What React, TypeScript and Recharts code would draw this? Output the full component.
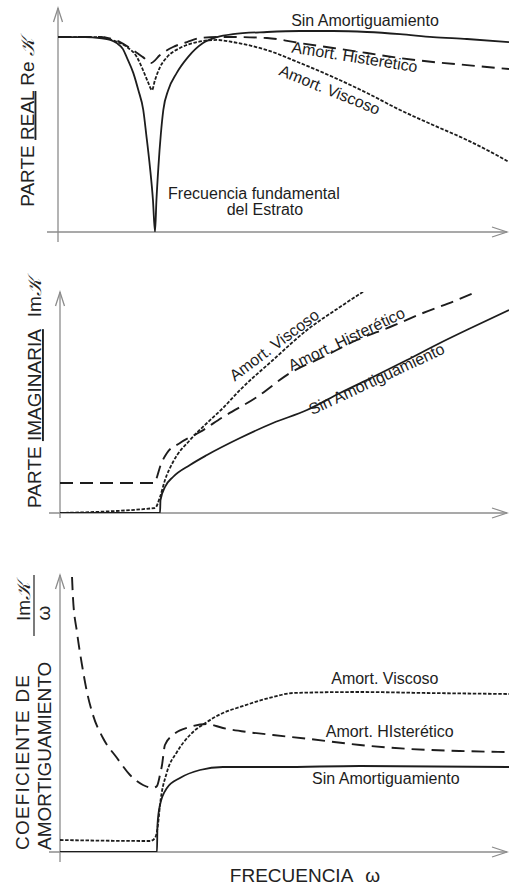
import { LineChart, Line, XAxis, YAxis, ReferenceLine, ReferenceDot } from 'recharts';

const FONT = '"Liberation Sans", Arial, Helvetica, sans-serif';
const INK = '#1d1d1d';
const AXIS = '#8c8c8c';
const SCRIPT_K = '𝒦';

type Pt = [number, number];

/* ───────── Parte real Re K  (ω/ω1, valor) ───────── */
const reSinAmort: Pt[] = [
  [0, 1.0], [0.28, 1.0], [0.43, 0.995], [0.54, 0.985], [0.605, 0.969], [0.67, 0.938],
  [0.708, 0.897], [0.777, 0.815], [0.828, 0.728], [0.879, 0.626], [0.91, 0.5],
  [0.948, 0.333], [0.979, 0.164], [1.0, 0], [1.015, 0.164], [1.035, 0.333], [1.06, 0.5],
  [1.086, 0.626], [1.137, 0.728], [1.223, 0.815], [1.34, 0.897], [1.495, 0.969],
  [1.639, 1.0], [1.804, 1.015], [2.155, 1.026], [2.495, 1.031], [2.835, 1.031],
  [3.186, 1.026], [3.526, 1.015], [3.866, 1.0], [4.216, 0.99], [4.65, 0.974],
];
const reHisteretico: Pt[] = [
  [0, 1.0], [0.43, 1.0], [0.64, 0.974], [0.773, 0.933], [0.876, 0.897], [0.959, 0.867],
  [1.052, 0.908], [1.186, 0.949], [1.33, 0.974], [1.464, 0.995], [1.639, 1.0], [1.804, 1.0],
  [2.155, 0.995], [2.495, 0.969], [2.835, 0.944], [3.186, 0.918], [3.526, 0.892],
  [3.866, 0.872], [4.216, 0.856], [4.65, 0.836],
];
const reViscoso: Pt[] = [
  [0, 1.0], [0.43, 1.0], [0.588, 0.979], [0.711, 0.949], [0.814, 0.897], [0.876, 0.831],
  [0.928, 0.769], [0.969, 0.728], [1.0, 0.779], [1.052, 0.846], [1.124, 0.897],
  [1.258, 0.944], [1.433, 0.974], [1.639, 0.985], [1.804, 0.974], [2.155, 0.933],
  [2.495, 0.867], [2.835, 0.795], [3.186, 0.713], [3.526, 0.626], [3.866, 0.549],
  [4.216, 0.472], [4.557, 0.385], [4.65, 0.359],
];

/* ───────── Parte imaginaria Im K ───────── */
const imSinAmort: Pt[] = [
  [0, 0], [1.0, 0], [1.005, 0.13], [1.05, 0.26], [1.13, 0.36], [1.3, 0.48], [1.47, 0.58],
  [1.8, 0.75], [2.13, 0.9], [2.47, 1.03], [2.8, 1.2], [3.13, 1.36], [3.47, 1.53],
  [3.8, 1.7], [4.13, 1.86], [4.49, 2.03],
];
const imViscoso: Pt[] = [
  [0, 0], [0.95, 0.05], [1.0, 0.16], [1.05, 0.33], [1.13, 0.51], [1.3, 0.73], [1.47, 0.9],
  [1.63, 1.05], [1.8, 1.23], [2.13, 1.53], [2.47, 1.83], [2.8, 2.06], [3.12, 2.27],
];
const imHisteretico: Pt[] = [
  [0, 0.3], [0.95, 0.3], [0.97, 0.36], [1.0, 0.46], [1.07, 0.6], [1.2, 0.7], [1.4, 0.81],
  [1.63, 0.96], [1.97, 1.16], [2.3, 1.4], [2.63, 1.56], [2.97, 1.73], [3.3, 1.86],
  [3.63, 2.0], [3.97, 2.13], [4.25, 2.25],
];

/* ───────── Coeficiente de amortiguamiento Im K / ω ───────── */
const amSinAmort: Pt[] = [
  [0, 0], [1.0, 0], [1.005, 0.27], [1.031, 0.47], [1.103, 0.64], [1.237, 0.74],
  [1.443, 0.82], [1.68, 0.85], [2.268, 0.85], [3.093, 0.86], [4.63, 0.85],
];
const amViscoso: Pt[] = [
  [0, 0.12], [0.928, 0.11], [0.979, 0.14], [1.01, 0.27], [1.031, 0.47], [1.103, 0.8],
  [1.206, 1.0], [1.34, 1.17], [1.515, 1.3], [1.68, 1.39], [1.856, 1.45], [2.196, 1.55],
  [2.402, 1.59], [3.093, 1.6], [3.784, 1.59], [4.63, 1.58],
];
const amHisteretico: Pt[] = [
  [0.124, 2.75], [0.134, 2.54], [0.175, 2.2], [0.227, 1.87], [0.278, 1.6], [0.34, 1.37],
  [0.443, 1.14], [0.588, 0.94], [0.722, 0.77], [0.856, 0.67], [0.959, 0.64], [1.0, 0.66],
  [1.031, 0.77], [1.052, 0.87], [1.082, 1.07], [1.165, 1.17], [1.34, 1.25], [1.515, 1.28],
  [1.68, 1.24], [1.928, 1.2], [2.196, 1.17], [2.577, 1.13], [3.093, 1.07], [3.608, 1.03],
  [4.124, 1.01], [4.63, 1.0],
];

// curve annotations: [text, ω, value, angle]
type Note = [string, number, number, number];
const reNotes: Note[] = [
  ['Sin Amortiguamiento', 3.165, 1.056, 0],
  ['Amort. Histerético', 3.05, 0.87, 9],
  ['Amort. Viscoso', 2.78, 0.703, 22],
  ['Frecuencia fundamental', 2.02, 0.169, 0],
  ['del Estrato', 2.134, 0.087, 0],
];
const imNotes: Note[] = [
  ['Amort. Viscoso', 2.175, 1.635, -37],
  ['Amort. Histerético', 2.89, 1.69, -25.5],
  ['Sin Amortiguamiento', 3.19, 1.29, -25],
];
const amNotes: Note[] = [
  ['Amort. Viscoso', 3.35, 1.685, 0],
  ['Amort. HIsterético', 3.4, 1.15, 0],
  ['Sin Amortiguamiento', 3.36, 0.68, 0],
];

const toRows = (pts: Pt[]) => pts.map(([w, v]) => ({ w, v }));

const SOLID = { stroke: INK, strokeWidth: 1.8 };
const HIST = { stroke: INK, strokeWidth: 1.9, strokeDasharray: '13 7' };
const VISC = { stroke: INK, strokeWidth: 1.8, strokeDasharray: '3.5 1.6' };

/* ───────── axes with open arrowheads ───────── */
function AxisX(p: any) {
  const y = p.y1;
  const left = Math.min(p.x1, p.x2) - 11;
  const right = Math.max(p.x1, p.x2) - 2;
  return (
    <g stroke={AXIS} strokeWidth={1.3} fill="none">
      <line x1={left} y1={y} x2={right} y2={y} />
      <polyline points={`${right - 15},${y - 5} ${right},${y} ${right - 15},${y + 5}`} />
    </g>
  );
}

function makeAxisY(below: number) {
  return function AxisY(p: any) {
    const x = p.x1;
    const top = Math.min(p.y1, p.y2);
    const bottom = Math.max(p.y1, p.y2) + below;
    return (
      <g stroke={AXIS} strokeWidth={1.3} fill="none">
        <line x1={x} y1={top} x2={x} y2={bottom} />
        <polyline points={`${x - 4.5},${top + 14} ${x},${top} ${x + 4.5},${top + 14}`} />
      </g>
    );
  };
}

function noteShape(text: string, angle: number) {
  return function NoteText(p: any) {
    return (
      <text
        x={p.cx}
        y={p.cy}
        transform={angle ? `rotate(${angle} ${p.cx} ${p.cy})` : undefined}
        textAnchor="middle"
        fontFamily={FONT}
        fontSize={16}
        fill={INK}
      >
        {text}
      </text>
    );
  };
}

function renderNotes(notes: Note[]) {
  return notes.map(([text, w, v, angle]) => (
    <ReferenceDot key={text + w} x={w} y={v} r={0} ifOverflow="visible" shape={noteShape(text, angle)} />
  ));
}

const titleStyle = { fontFamily: FONT, fontSize: 19, fill: '#222' };

function ReTitle() {
  return (
    <text transform="translate(33.5,122.5) rotate(-90)" textAnchor="middle" {...titleStyle}>
      PARTE <tspan textDecoration="underline">REAL</tspan> Re{' '}
      <tspan fontFamily='"DejaVu Serif", serif' fontStyle="italic">{SCRIPT_K}</tspan>
    </text>
  );
}

function ImTitle() {
  return (
    <text transform="translate(41,123) rotate(-90)" textAnchor="middle" {...titleStyle}>
      PARTE <tspan textDecoration="underline">IMAGINARIA</tspan>
      <tspan dx={12}>Im</tspan>
      <tspan fontFamily='"DejaVu Serif", serif' fontStyle="italic">{SCRIPT_K}</tspan>
    </text>
  );
}

function AmTitle() {
  return (
    <g {...titleStyle}>
      <text transform="translate(28.5,290) rotate(-90)" textAnchor="start" letterSpacing={1.2}>
        COEFICIENTE DE
      </text>
      <text transform="translate(51,290) rotate(-90)" textAnchor="start">AMORTIGUAMIENTO</text>
      <text transform="translate(30,41.5) rotate(-90)" textAnchor="middle">
        Im<tspan fontFamily='"DejaVu Serif", serif' fontStyle="italic">{SCRIPT_K}</tspan>
      </text>
      <line x1={34} y1={15} x2={34} y2={76} stroke="#333" strokeWidth={1.3} />
      <text transform="translate(50,53) rotate(-90)" textAnchor="middle">ω</text>
    </g>
  );
}

function FreqTitle() {
  return (
    <text x={305} y={322} textAnchor="middle" {...titleStyle}>
      FRECUENCIA<tspan dx={12}>ω</tspan>
    </text>
  );
}

interface PanelProps {
  top: number;
  height: number;
  marginTop: number;
  xAxisHeight: number;
  yAxisWidth: number;
  xMax: number;
  yMax: number;
  below: number;
  series: { pts: Pt[]; style: Record<string, unknown>; name: string }[];
  notes: Note[];
  yTitle: () => JSX.Element;
  xTitle?: () => JSX.Element;
}

function Panel(props: PanelProps) {
  const { top, height, marginTop, xAxisHeight, yAxisWidth, xMax, yMax, below, series, notes } = props;
  const YT = props.yTitle;
  const XT = props.xTitle;
  return (
    <div style={{ position: 'absolute', left: 0, top, width: 509, height }}>
      <LineChart width={509} height={height} margin={{ top: marginTop, right: 0, bottom: 0, left: 0 }}>
        <XAxis
          type="number"
          dataKey="w"
          domain={[0, xMax]}
          allowDataOverflow
          height={xAxisHeight}
          tick={false}
          tickLine={false}
          axisLine={false}
          label={XT ? { content: () => <XT /> } : undefined}
        />
        <YAxis
          type="number"
          dataKey="v"
          domain={[0, yMax]}
          allowDataOverflow
          width={yAxisWidth}
          tick={false}
          tickLine={false}
          axisLine={false}
          label={{ content: () => <YT /> }}
        />
        <ReferenceLine y={0} shape={AxisX} />
        <ReferenceLine x={0} shape={makeAxisY(below)} />
        {series.map((s) => (
          <Line
            key={s.name}
            name={s.name}
            data={toRows(s.pts)}
            dataKey="v"
            type="monotone"
            dot={false}
            activeDot={false}
            fill="none"
            isAnimationActive={false}
            {...s.style}
          />
        ))}
        {renderNotes(notes)}
      </LineChart>
    </div>
  );
}

export default function App() {
  return (
    <div style={{ position: 'absolute', left: 0, top: 0, width: 509, height: 888, background: '#fff' }}>
      <Panel
        top={0}
        height={250}
        marginTop={8}
        xAxisHeight={18}
        yAxisWidth={58}
        xMax={4.65}
        yMax={1.149}
        below={10}
        series={[
          { name: 'Sin Amortiguamiento', pts: reSinAmort, style: SOLID },
          { name: 'Amort. Histerético', pts: reHisteretico, style: HIST },
          { name: 'Amort. Viscoso', pts: reViscoso, style: VISC },
        ]}
        notes={reNotes}
        yTitle={ReTitle}
      />
      <Panel
        top={270}
        height={260}
        marginTop={22}
        xAxisHeight={17}
        yAxisWidth={60}
        xMax={4.49}
        yMax={2.21}
        below={5}
        series={[
          { name: 'Sin Amortiguamiento', pts: imSinAmort, style: SOLID },
          { name: 'Amort. Histerético', pts: imHisteretico, style: HIST },
          { name: 'Amort. Viscoso', pts: imViscoso, style: VISC },
        ]}
        notes={imNotes}
        yTitle={ImTitle}
      />
      <Panel
        top={560}
        height={328}
        marginTop={15}
        xAxisHeight={36}
        yAxisWidth={60}
        xMax={4.63}
        yMax={2.77}
        below={10}
        series={[
          { name: 'Sin Amortiguamiento', pts: amSinAmort, style: SOLID },
          { name: 'Amort. Histerético', pts: amHisteretico, style: HIST },
          { name: 'Amort. Viscoso', pts: amViscoso, style: VISC },
        ]}
        notes={amNotes}
        yTitle={AmTitle}
        xTitle={FreqTitle}
      />
    </div>
  );
}
